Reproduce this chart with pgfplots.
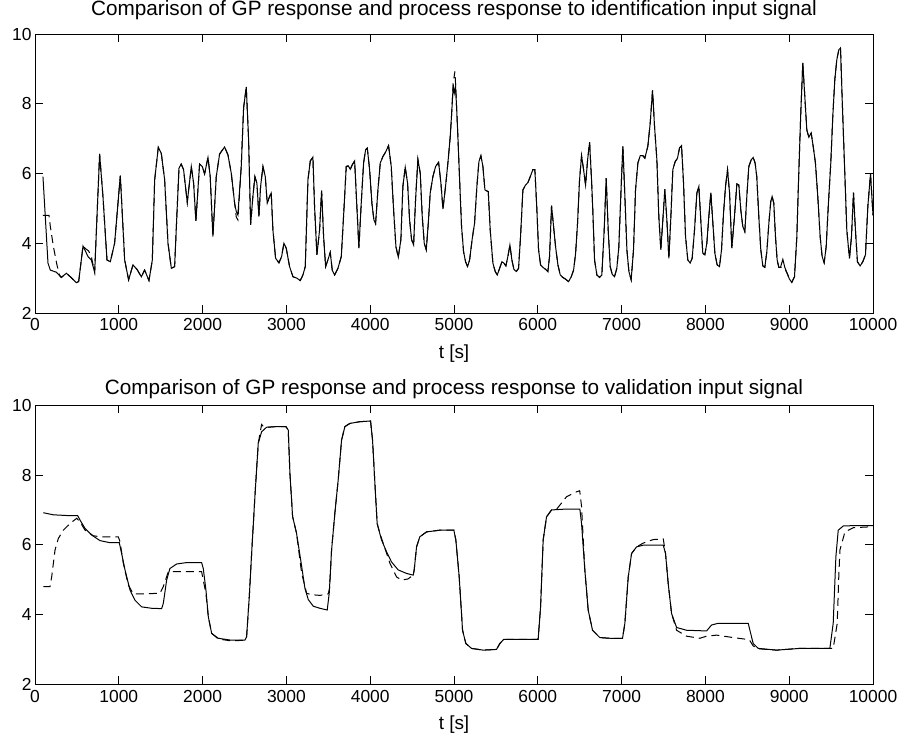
\documentclass[border=0pt]{standalone}
\usepackage{fontspec}
\setmainfont{Liberation Sans}
\usepackage{pgfplots}
\pgfplotsset{compat=1.18}
\pgfplotsset{gpstyle/.style={
  width=838bp, height=279bp, scale only axis,
  xmin=0, xmax=10000, ymin=2, ymax=10,
  xtick={0,1000,...,10000}, ytick={2,4,6,8,10},
  scaled x ticks=false,
  /pgf/number format/assume math mode=true,
  /pgf/number format/set thousands separator={},
  tick align=inside, major tick length=8bp,
  axis line style={line width=0.8bp},
  every tick/.style={line width=0.8bp, black},
  tick label style={font=\fontsize{17.5}{21}\selectfont},
  xticklabel style={yshift=-2bp},
  title style={font=\fontsize{20.8}{25}\selectfont, at={(0.5,1)}, anchor=base},
  xlabel style={font=\fontsize{19}{23}\selectfont, at={(0.5,0)}, anchor=base, yshift=-45bp},
  xlabel={t [s]},
  solidl/.style={black, line width=1bp},
  dashl/.style={black, line width=1bp, dash pattern=on 8bp off 5bp},
}}
\begin{document}
\begin{tikzpicture}[x=1bp,y=1bp]
\path[use as bounding box] (0,0) rectangle (903,-738);
\begin{axis}[gpstyle, at={(35bp,-34bp)}, anchor=north west,
  title={Comparison of GP response and process response to identification input signal},
  title style={yshift=12.5bp}]
\addplot[solidl] table {
95 5.91
155 3.43
183 3.23
254 3.17
314 3.02
374 3.14
421 3.04
493 2.87
521 2.90
573 3.92
632 3.62
672 3.52
712 3.17
771 6.56
811 5.34
859 3.52
899 3.47
950 4.00
1018 5.94
1070 3.52
1117 2.95
1169 3.38
1217 3.25
1269 3.04
1308 3.23
1360 2.93
1400 3.52
1428 5.82
1471 6.75
1507 6.58
1547 5.82
1587 4.00
1627 3.28
1666 3.33
1694 4.86
1718 6.15
1745 6.27
1773 6.11
1817 5.17
1865 6.20
1893 5.72
1920 4.64
1964 6.27
1996 6.20
2024 5.99
2064 6.46
2091 5.91
2123 4.19
2163 5.91
2203 6.56
2262 6.76
2302 6.54
2342 6.01
2382 5.15
2402 4.91
2421 4.81
2461 6.20
2489 7.88
2521 8.48
2549 6.97
2573 4.53
2600 5.34
2624 5.91
2648 5.72
2672 4.77
2692 5.63
2720 6.20
2748 5.91
2771 5.15
2799 5.34
2819 5.44
2839 4.38
2871 3.57
2911 3.44
2943 3.62
2970 4.00
2998 3.86
3038 3.33
3078 3.04
3125 3.00
3165 2.93
3197 3.09
3225 3.33
3257 5.82
3285 6.36
3316 6.47
3336 5.05
3364 3.67
3396 4.38
3420 5.51
3444 4.19
3468 3.33
3495 3.52
3523 3.74
3547 3.23
3575 3.09
3615 3.28
3655 3.62
3682 4.77
3714 6.20
3738 6.22
3762 6.12
3786 6.25
3814 6.36
3841 5.05
3865 3.86
3893 5.15
3921 6.30
3945 6.68
3965 6.73
3993 6.11
4020 5.15
4044 4.67
4064 4.56
4092 5.53
4120 6.30
4152 6.49
4183 6.61
4219 6.80
4251 6.20
4279 4.96
4307 3.90
4335 3.60
4366 4.10
4390 5.63
4418 6.18
4446 5.72
4470 4.67
4494 4.10
4518 3.95
4541 5.24
4569 6.41
4597 6.01
4621 4.77
4645 4.00
4669 3.81
4693 4.57
4716 5.44
4748 5.91
4780 6.20
4816 6.32
4844 5.72
4868 4.98
4899 5.63
4927 6.30
4955 7.06
4971 7.68
4991 8.55
5003 8.30
5019 8.50
5043 7.25
5067 5.82
5090 4.48
5114 3.76
5138 3.47
5162 3.33
5186 3.52
5218 4.14
5245 4.57
5273 5.63
5297 6.34
5321 6.51
5345 6.20
5369 5.53
5409 5.48
5432 4.38
5464 3.43
5492 3.19
5516 3.09
5544 3.28
5572 3.47
5595 3.43
5619 3.35
5643 3.62
5667 3.95
5691 3.52
5715 3.25
5743 3.19
5770 3.28
5794 4.19
5822 5.53
5854 5.67
5882 5.74
5910 5.91
5941 6.11
5965 6.11
5989 4.96
6009 3.81
6033 3.38
6061 3.31
6093 3.25
6120 3.19
6140 3.62
6164 5.08
6188 4.48
6212 3.90
6240 3.38
6268 3.09
6299 3.02
6331 2.97
6367 2.90
6399 3.04
6427 3.23
6451 3.71
6474 4.57
6498 5.82
6522 6.51
6546 6.11
6570 5.67
6594 6.39
6618 6.90
6641 5.82
6657 4.91
6677 3.52
6705 3.09
6737 3.02
6764 3.09
6792 4.38
6816 5.87
6840 4.38
6864 3.33
6888 3.11
6915 3.04
6943 3.28
6967 3.90
6995 5.63
7015 6.78
7039 5.34
7063 3.81
7087 3.19
7114 2.95
7142 3.81
7166 5.53
7194 6.30
7222 6.51
7254 6.51
7277 6.44
7313 6.78
7341 7.44
7369 8.38
7393 7.35
7421 6.39
7444 4.77
7468 3.81
7492 4.67
7516 5.55
7540 4.67
7564 3.57
7588 4.77
7611 6.11
7639 6.34
7667 6.44
7691 6.73
7715 6.80
7739 5.72
7763 4.19
7790 3.52
7818 3.43
7842 3.57
7870 4.38
7898 5.44
7922 5.63
7942 4.77
7969 3.71
7993 3.67
8017 4.00
8041 4.77
8065 5.45
8089 4.57
8113 3.71
8140 3.38
8168 3.33
8192 3.81
8216 4.86
8240 5.63
8264 6.11
8288 5.44
8315 3.86
8347 4.77
8375 5.70
8399 5.67
8422 4.96
8446 4.48
8470 4.33
8494 5.34
8518 6.20
8546 6.39
8570 6.46
8593 6.30
8613 5.91
8637 4.77
8661 3.81
8685 3.35
8709 3.31
8733 3.76
8757 4.57
8780 5.20
8796 5.34
8816 5.15
8836 4.19
8856 3.52
8876 3.31
8896 3.31
8924 3.54
8947 3.31
8975 3.14
9003 2.97
9031 2.88
9063 3.04
9091 4.19
9114 6.01
9138 7.73
9162 9.17
9186 8.21
9210 7.25
9234 7.04
9262 7.16
9286 6.78
9313 6.30
9341 5.34
9369 4.19
9393 3.62
9417 3.44
9441 3.90
9468 5.15
9496 6.30
9520 7.64
9544 8.69
9568 9.26
9592 9.55
9612 9.60
9631 8.21
9659 6.30
9687 4.38
9719 3.57
9743 4.19
9767 5.45
9790 4.38
9814 3.47
9846 3.35
9878 3.47
9910 3.67
9938 5.05
9970 5.99
10000 4.80
};
\addplot[dashl] table {
95 4.80
167 4.80
183 4.48
220 3.90
260 3.40
290 3.10
314 3.02
374 3.14
421 3.04
493 2.87
521 2.90
573 3.92
600 3.85
640 3.78
672 3.62
700 3.30
712 3.17
771 6.56
811 5.34
859 3.52
899 3.47
950 4.00
1018 5.94
1070 3.52
1117 2.95
1169 3.38
1217 3.25
1269 3.04
1308 3.23
1360 2.93
1400 3.52
1428 5.82
1471 6.75
1507 6.58
1547 5.82
1587 4.00
1627 3.28
1666 3.33
1694 4.86
1718 6.15
1745 6.27
1773 6.11
1817 5.17
1865 6.20
1893 5.72
1920 4.64
1964 6.27
1996 6.20
2024 5.99
2064 6.46
2091 5.91
2123 4.19
2163 5.91
2203 6.56
2262 6.76
2302 6.54
2342 6.01
2382 5.15
2402 4.75
2421 4.67
2461 6.20
2489 7.88
2521 8.48
2549 6.97
2573 4.53
2600 5.34
2624 5.91
2648 5.72
2672 4.77
2692 5.63
2720 6.20
2748 5.91
2771 5.15
2799 5.34
2819 5.44
2839 4.38
2871 3.57
2911 3.44
2943 3.62
2970 4.00
2998 3.86
3038 3.33
3078 3.04
3125 3.00
3165 2.93
3197 3.09
3225 3.33
3257 5.82
3285 6.36
3316 6.47
3336 5.05
3364 3.67
3396 4.38
3420 5.51
3444 4.19
3468 3.33
3495 3.52
3523 3.74
3547 3.23
3575 3.09
3615 3.28
3655 3.62
3682 4.77
3714 6.20
3738 6.22
3762 6.12
3786 6.25
3814 6.36
3841 5.05
3865 3.86
3893 5.15
3921 6.30
3945 6.68
3965 6.73
3993 6.11
4020 5.15
4044 4.67
4064 4.56
4092 5.53
4120 6.30
4152 6.49
4183 6.61
4219 6.80
4251 6.20
4279 4.96
4307 3.90
4335 3.60
4366 4.10
4390 5.63
4418 6.18
4446 5.72
4470 4.67
4494 4.10
4518 3.95
4541 5.24
4569 6.41
4597 6.01
4621 4.77
4645 4.00
4669 3.81
4693 4.57
4716 5.44
4748 5.91
4780 6.20
4816 6.32
4844 5.72
4868 4.98
4899 5.63
4927 6.30
4955 7.06
4971 7.68
4991 8.60
5011 8.93
5019 8.55
5043 7.25
5067 5.82
5090 4.48
5114 3.76
5138 3.47
5162 3.33
5186 3.52
5218 4.14
5245 4.57
5273 5.63
5297 6.34
5321 6.51
5345 6.20
5369 5.53
5409 5.48
5432 4.38
5464 3.43
5492 3.19
5516 3.09
5544 3.28
5572 3.47
5595 3.43
5619 3.35
5643 3.62
5667 3.95
5691 3.52
5715 3.25
5743 3.19
5770 3.28
5794 4.19
5822 5.53
5854 5.67
5882 5.74
5910 5.91
5941 6.11
5965 6.11
5989 4.96
6009 3.81
6033 3.38
6061 3.31
6093 3.25
6120 3.19
6140 3.62
6164 5.08
6188 4.48
6212 3.90
6240 3.38
6268 3.09
6299 3.02
6331 2.97
6367 2.90
6399 3.04
6427 3.23
6451 3.71
6474 4.57
6498 5.82
6522 6.51
6546 6.11
6570 5.67
6594 6.39
6618 6.90
6641 5.82
6657 4.91
6677 3.52
6705 3.09
6737 3.02
6764 3.09
6792 4.38
6816 5.87
6840 4.38
6864 3.33
6888 3.11
6915 3.04
6943 3.28
6967 3.90
6995 5.63
7015 6.78
7039 5.34
7063 3.81
7087 3.19
7114 2.95
7142 3.81
7166 5.53
7194 6.30
7222 6.51
7254 6.51
7277 6.44
7313 6.78
7341 7.44
7369 8.38
7393 7.35
7421 6.39
7444 4.77
7468 3.81
7492 4.67
7516 5.55
7540 4.67
7564 3.57
7588 4.77
7611 6.11
7639 6.34
7667 6.44
7691 6.73
7715 6.80
7739 5.72
7763 4.19
7790 3.52
7818 3.43
7842 3.57
7870 4.38
7898 5.44
7922 5.63
7942 4.77
7969 3.71
7993 3.67
8017 4.00
8041 4.77
8065 5.45
8089 4.57
8113 3.71
8140 3.38
8168 3.33
8192 3.81
8216 4.86
8240 5.63
8264 6.11
8288 5.44
8315 3.86
8347 4.77
8375 5.70
8399 5.67
8422 4.96
8446 4.48
8470 4.33
8494 5.34
8518 6.20
8546 6.39
8570 6.46
8593 6.30
8613 5.91
8637 4.77
8661 3.81
8685 3.35
8709 3.31
8733 3.76
8757 4.57
8780 5.20
8796 5.34
8816 5.15
8836 4.19
8856 3.52
8876 3.31
8896 3.31
8924 3.31
8947 3.28
8975 3.14
9003 2.97
9031 2.88
9063 3.04
9091 4.19
9114 6.01
9138 7.73
9162 9.17
9186 8.21
9210 7.25
9234 7.04
9262 7.16
9286 6.78
9313 6.30
9341 5.34
9369 4.19
9393 3.62
9417 3.44
9441 3.90
9468 5.15
9496 6.30
9520 7.64
9544 8.69
9568 9.26
9592 9.55
9612 9.60
9631 8.21
9659 6.30
9687 4.38
9719 3.57
9743 4.19
9767 5.45
9790 4.38
9814 3.47
9846 3.35
9878 3.47
9910 3.67
9938 5.05
9970 5.99
10000 4.80
};
\end{axis}
\begin{axis}[gpstyle, at={(35bp,-405.3bp)}, anchor=north west,
  title={Comparison of GP response and process response to validation input signal},
  title style={yshift=5bp}]
\addplot[solidl] table {
99 6.92
219 6.86
378 6.84
509 6.84
537 6.71
597 6.47
676 6.28
776 6.12
895 6.06
1006 6.06
1034 5.75
1074 5.28
1134 4.70
1193 4.41
1273 4.22
1392 4.18
1511 4.17
1531 4.32
1571 4.99
1610 5.32
1690 5.45
1809 5.49
1988 5.49
2008 5.32
2040 4.70
2068 3.94
2108 3.46
2187 3.32
2326 3.27
2505 3.27
2525 3.36
2557 4.51
2585 5.75
2624 7.38
2664 8.91
2704 9.24
2763 9.37
2883 9.39
2994 9.39
3022 9.29
3042 8.05
3074 6.81
3121 6.33
3181 5.40
3221 4.75
3261 4.43
3320 4.24
3400 4.18
3487 4.13
3511 4.61
3539 5.85
3578 6.90
3618 7.86
3658 9.00
3698 9.39
3757 9.48
3876 9.53
4004 9.55
4028 9.00
4056 7.76
4083 6.61
4135 6.14
4195 5.80
4254 5.51
4334 5.28
4433 5.18
4513 5.13
4525 5.28
4553 5.94
4592 6.23
4672 6.37
4831 6.42
4998 6.42
5022 6.14
5062 5.08
5102 3.55
5141 3.17
5209 3.03
5348 2.98
5507 3.00
5547 3.17
5594 3.29
5745 3.29
6004 3.29
6033 4.22
6064 6.14
6104 6.80
6164 7.00
6303 7.02
6502 7.02
6522 6.61
6561 5.28
6601 4.13
6653 3.55
6740 3.34
6860 3.32
7011 3.32
7039 3.75
7079 5.08
7119 5.75
7178 5.94
7258 5.99
7497 5.99
7524 5.75
7556 4.89
7596 4.03
7656 3.63
7775 3.55
8014 3.53
8073 3.70
8153 3.75
8511 3.75
8531 3.55
8570 3.17
8630 3.03
8849 2.98
9127 3.03
9485 3.03
9525 3.75
9557 5.66
9585 6.42
9645 6.54
9764 6.55
10000 6.55
};
\addplot[dashl] table {
99 4.80
179 4.80
199 5.08
239 5.85
278 6.18
338 6.42
418 6.61
497 6.76
537 6.66
597 6.42
696 6.26
776 6.23
994 6.23
1014 6.09
1054 5.47
1113 4.85
1173 4.59
1233 4.59
1491 4.61
1531 4.80
1591 5.23
1630 5.23
1988 5.23
2016 4.89
2040 4.60
2068 3.94
2108 3.46
2187 3.30
2326 3.25
2505 3.26
2525 3.36
2557 4.51
2585 5.75
2624 7.38
2664 8.91
2704 9.45
2730 9.38
2763 9.37
2883 9.39
2994 9.39
3022 9.29
3042 8.05
3074 6.81
3121 6.33
3181 5.20
3241 4.61
3300 4.57
3400 4.55
3499 4.59
3515 4.75
3539 5.85
3578 6.90
3618 7.86
3658 9.00
3698 9.39
3757 9.48
3876 9.53
4004 9.55
4028 9.00
4056 7.76
4083 6.61
4115 6.33
4175 5.90
4235 5.47
4314 5.08
4374 4.99
4450 5.02
4513 5.13
4525 5.28
4553 5.94
4592 6.23
4672 6.37
4831 6.42
4998 6.42
5022 6.14
5062 5.08
5102 3.55
5141 3.17
5209 3.03
5348 2.98
5507 3.00
5547 3.17
5594 3.29
5745 3.29
6004 3.29
6033 4.22
6064 6.14
6104 6.80
6164 7.00
6224 7.02
6343 7.38
6462 7.52
6500 7.55
6522 7.10
6561 5.28
6601 4.13
6653 3.55
6740 3.34
6860 3.32
7011 3.32
7039 3.75
7079 5.08
7119 5.75
7178 5.94
7258 6.05
7377 6.15
7497 6.17
7524 5.75
7556 4.89
7596 4.03
7656 3.55
7775 3.38
7934 3.32
8014 3.38
8133 3.41
8332 3.34
8491 3.29
8531 3.25
8570 3.10
8630 3.02
8849 2.98
9127 3.03
9485 3.03
9525 3.03
9573 3.75
9590 5.00
9605 5.85
9665 6.37
9764 6.49
10000 6.52
};
\end{axis}
\end{tikzpicture}
\end{document}
